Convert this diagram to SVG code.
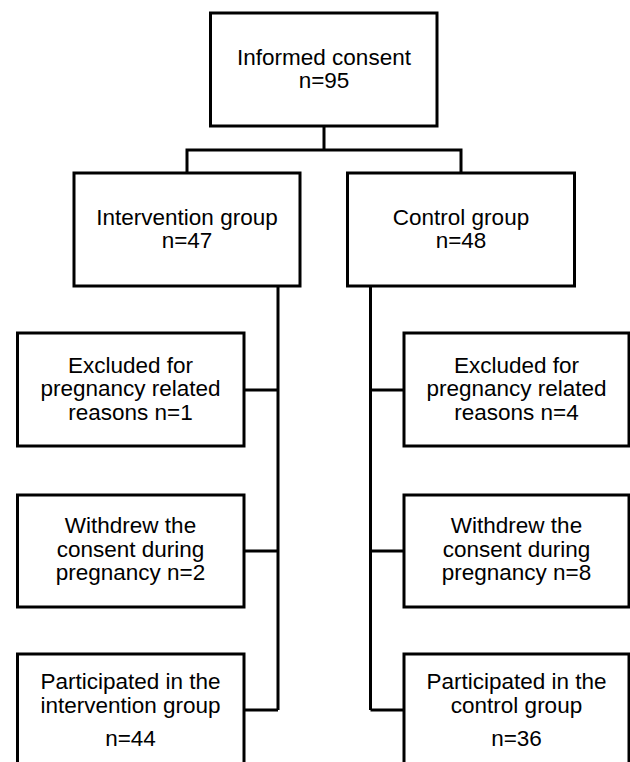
<svg xmlns="http://www.w3.org/2000/svg" width="630" height="762" viewBox="0 0 630 762">
<style>
.box{fill:#fff;stroke:#000;stroke-width:3}
.ln{fill:none;stroke:#000;stroke-width:3}
text{font-family:"Liberation Sans",Arial,sans-serif;font-size:22.5px;fill:#000;text-anchor:middle}
</style>
<rect width="630" height="762" fill="#fff"/>
<g id="connectors">
<path class="ln" d="M324 126V150M187 173V150H461V173"/>
<path class="ln" d="M278 286V710M244 390H278M244 551H278M244 710H278"/>
<path class="ln" d="M370.5 286V710M370.5 390H404M370.5 551H404M370.5 710H404"/>
</g>
<g id="consent">
<rect class="box" x="210.5" y="13" width="226.5" height="113"/>
<text x="324" y="65">Informed consent</text>
<text x="324" y="88">n=95</text>
</g>
<g id="intervention">
<rect class="box" x="74" y="173" width="226" height="113"/>
<text x="187" y="225">Intervention group</text>
<text x="187" y="248">n=47</text>
</g>
<g id="control">
<rect class="box" x="347.5" y="173" width="227" height="113"/>
<text x="461" y="225">Control group</text>
<text x="461" y="248">n=48</text>
</g>
<g id="excl-int">
<rect class="box" x="17.5" y="333" width="226.5" height="113"/>
<text x="130.5" y="373">Excluded for</text>
<text x="130.5" y="396">pregnancy related</text>
<text x="130.5" y="420">reasons n=1</text>
</g>
<g id="excl-ctl">
<rect class="box" x="404" y="333" width="225" height="113"/>
<text x="516.5" y="373">Excluded for</text>
<text x="516.5" y="396">pregnancy related</text>
<text x="516.5" y="420">reasons n=4</text>
</g>
<g id="wd-int">
<rect class="box" x="17.5" y="495" width="226.5" height="112"/>
<text x="130.5" y="533">Withdrew the</text>
<text x="130.5" y="557">consent during</text>
<text x="130.5" y="580">pregnancy n=2</text>
</g>
<g id="wd-ctl">
<rect class="box" x="404" y="495" width="225" height="112"/>
<text x="516.5" y="533">Withdrew the</text>
<text x="516.5" y="557">consent during</text>
<text x="516.5" y="580">pregnancy n=8</text>
</g>
<g id="part-int">
<rect class="box" x="17.5" y="654" width="226.5" height="120"/>
<text x="130.5" y="689">Participated in the</text>
<text x="130.5" y="713">intervention group</text>
<text x="130.5" y="746">n=44</text>
</g>
<g id="part-ctl">
<rect class="box" x="404" y="654" width="225" height="120"/>
<text x="516.5" y="689">Participated in the</text>
<text x="516.5" y="713">control group</text>
<text x="516.5" y="746">n=36</text>
</g>
</svg>
